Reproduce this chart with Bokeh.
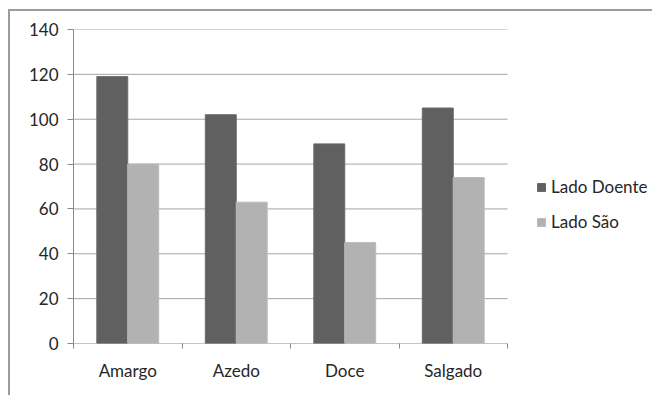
import numpy as np
from bokeh.plotting import figure
from bokeh.models import Range1d, FixedTicker, Legend, LegendItem, ColumnDataSource
from bokeh.embed import file_html
from bokeh.resources import INLINE

categories = ["Amargo", "Azedo", "Doce", "Salgado"]
lado_doente = [119, 102, 89, 105]
lado_sao = [80, 63, 45, 74]
series_names = ["Lado Doente", "Lado São"]
y_ticks = [0, 20, 40, 60, 80, 100, 120, 140]

FONT = "Lato"
FS = "17px"
n = len(categories)
centers = np.arange(n) + 0.5
bw = 0.285

# the frame also holds the legend area on the right: categories occupy 434 of 581 px
x_end = n * 581 / 434

p = figure(width=644, height=386, output_backend="svg", toolbar_location=None,
           x_range=Range1d(0, x_end), y_range=Range1d(0, y_ticks[-1]),
           min_border_left=63, min_border_right=0, min_border_top=18, min_border_bottom=54)
p.margin = (9, 0, 0, 8)
p.styles = {"border-top": "2px solid #9c9c9c", "border-left": "2px solid #9c9c9c", "box-sizing": "border-box"}
p.outline_line_color = None
p.background_fill_color = "white"
p.border_fill_color = "white"

# horizontal gridlines spanning only the category area
grid_y = y_ticks[1:]
p.segment(x0=[0] * len(grid_y), x1=[n] * len(grid_y), y0=grid_y, y1=grid_y,
          line_color="#a6a6a6", line_width=1)
# x axis baseline
p.segment(x0=[0], x1=[n], y0=[0], y1=[0], line_color="#8a8a8a", line_width=1)

src_d = ColumnDataSource(dict(x=centers - bw / 2, top=lado_doente))
src_s = ColumnDataSource(dict(x=centers + bw / 2, top=lado_sao))
r1 = p.vbar(x="x", top="top", width=bw, bottom=0, source=src_d, fill_color="#606060", line_color="#6a6a6a", line_width=1)
r2 = p.vbar(x="x", top="top", width=bw, bottom=0, source=src_s, fill_color="#b2b2b2", line_color="#bababa", line_width=1)

# x axis
xa = p.xaxis[0]
xa.ticker = FixedTicker(ticks=list(centers), minor_ticks=list(range(n + 1)))
xa.major_label_overrides = {float(c): cat for c, cat in zip(centers, categories)}
xa.major_tick_out = 0
xa.major_tick_in = 0
xa.minor_tick_out = 5
xa.minor_tick_in = 0
xa.minor_tick_line_color = "#8a8a8a"
xa.axis_line_color = None
xa.major_label_standoff = 11
xa.major_label_text_font = FONT
xa.major_label_text_font_size = FS
xa.major_label_text_color = "#262626"

ya = p.yaxis[0]
ya.ticker = FixedTicker(ticks=y_ticks, minor_ticks=[])
ya.major_tick_out = 6
ya.major_tick_in = 0
ya.major_tick_line_color = "#8a8a8a"
ya.axis_line_color = "#8a8a8a"
ya.major_label_standoff = 9
ya.major_label_text_font = FONT
ya.major_label_text_font_size = FS
ya.major_label_text_color = "#262626"

p.xgrid.grid_line_color = None
p.ygrid.grid_line_color = None

legend = Legend(items=[LegendItem(label=series_names[0], renderers=[r1]),
                       LegendItem(label=series_names[1], renderers=[r2])],
                location=(463, 111))
legend.label_text_font = FONT
legend.label_text_font_size = FS
legend.label_text_color = "#262626"
legend.glyph_width = 10
legend.glyph_height = 10
legend.label_standoff = 5
legend.spacing = 14
legend.padding = 0
legend.margin = 0
legend.border_line_color = None
legend.background_fill_alpha = 0
p.add_layout(legend, "center")

open("out.html", "w").write(file_html(p, INLINE))
